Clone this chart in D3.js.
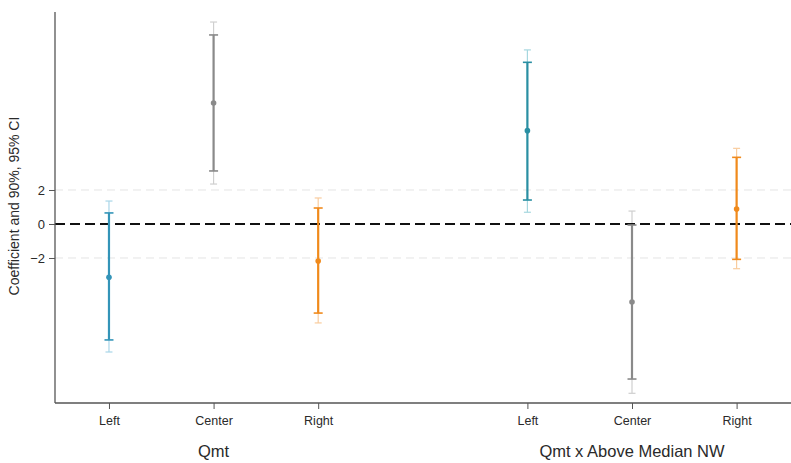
<!DOCTYPE html>
<html>
<head>
<meta charset="utf-8">
<script src="https://cdn.jsdelivr.net/npm/d3@7"></script>
<style>
  body { margin: 0; background: #fff; }
  text { font-family: "Liberation Sans", Arial, sans-serif; fill: #2a2a2a; }
</style>
</head>
<body>
<script>
// data
let labels = ["Left", "Center", "Right", "Left", "Center", "Right"];
let slots = [1, 2, 3, 5, 6, 7];
let groups = ["Qmt", "Qmt x Above Median NW"];
let groupSlot = [2, 6];
let coef = [-3.14, 7.12, -2.18, 5.49, -4.59, 0.88];
let lo90 = [-6.82, 3.12, -5.24, 1.41, -9.12, -2.08];
let hi90 = [0.65, 11.12, 0.94, 9.51, -0.06, 3.92];
let lo95 = [-7.53, 2.35, -5.82, 0.69, -9.96, -2.63];
let hi95 = [1.35, 11.88, 1.53, 10.24, 0.76, 4.45];
let yTicks = [-2, 0, 2];

let w = 791;
let h = 463;
let padL = 55, padT = 12, padB = 403, padR = 791;

const dark = ["#3394b8", "#8a8a8a", "#f08a1c", "#2a8fa3", "#8a8a8a", "#f08a1c"];
const light = ["#a9d6e8", "#cfcfcf", "#f9cc9e", "#a6d7df", "#cfcfcf", "#f9cc9e"];

let svg = d3.select("body").append("svg").attr("width", w).attr("height", h);

let xScale = d3.scaleLinear().domain([0.484, 7.52]).range([padL, padR]);
let yScale = d3.scaleLinear().domain([-10.53, 12.47]).range([padB, padT]);

// light gridlines at +-2
svg.selectAll("line.grid")
  .data([-2, 2])
  .enter()
  .append("line")
  .attr("class", "grid")
  .attr("x1", padL).attr("x2", padR)
  .attr("y1", (d) => yScale(d)).attr("y2", (d) => yScale(d))
  .attr("stroke", "#e4e4e4")
  .attr("stroke-width", 1)
  .attr("stroke-dasharray", "8,5");

let pts = d3.range(coef.length);

// 95% CI (thin, light)
let g95 = svg.append("g");
g95.selectAll("line.ci95")
  .data(pts).enter().append("line")
  .attr("x1", (i) => xScale(slots[i])).attr("x2", (i) => xScale(slots[i]))
  .attr("y1", (i) => yScale(lo95[i])).attr("y2", (i) => yScale(hi95[i]))
  .attr("stroke", (i) => light[i]).attr("stroke-width", 1.2);
[lo95, hi95].forEach((arr) => {
  g95.selectAll(null)
    .data(pts).enter().append("line")
    .attr("x1", (i) => xScale(slots[i]) - 3.5).attr("x2", (i) => xScale(slots[i]) + 3.5)
    .attr("y1", (i) => yScale(arr[i])).attr("y2", (i) => yScale(arr[i]))
    .attr("stroke", (i) => light[i]).attr("stroke-width", 1.2);
});

// zero line
svg.append("line")
  .attr("x1", padL).attr("x2", padR)
  .attr("y1", yScale(0)).attr("y2", yScale(0))
  .attr("stroke", "#111")
  .attr("stroke-width", 1.8)
  .attr("stroke-dasharray", "10,5");

// 90% CI (thick, dark)
let g90 = svg.append("g");
g90.selectAll("line.ci90")
  .data(pts).enter().append("line")
  .attr("x1", (i) => xScale(slots[i])).attr("x2", (i) => xScale(slots[i]))
  .attr("y1", (i) => yScale(lo90[i])).attr("y2", (i) => yScale(hi90[i]))
  .attr("stroke", (i) => dark[i]).attr("stroke-width", 2.2);
[lo90, hi90].forEach((arr) => {
  g90.selectAll(null)
    .data(pts).enter().append("line")
    .attr("x1", (i) => xScale(slots[i]) - 4.5).attr("x2", (i) => xScale(slots[i]) + 4.5)
    .attr("y1", (i) => yScale(arr[i])).attr("y2", (i) => yScale(arr[i]))
    .attr("stroke", (i) => dark[i]).attr("stroke-width", 1.6);
});

// point estimates
svg.selectAll("circle.coef")
  .data(pts).enter().append("circle")
  .attr("cx", (i) => xScale(slots[i]))
  .attr("cy", (i) => yScale(coef[i]))
  .attr("r", 2.8)
  .attr("fill", (i) => dark[i]);

// axes
const yAxis = d3.axisLeft(yScale).tickValues(yTicks).tickSize(6).tickPadding(4).tickFormat(d3.format("d"));
let ya = svg.append("g").attr("transform", "translate(" + padL + ",0)").call(yAxis);
ya.select(".domain").attr("d", "M0," + padT + "V" + padB).attr("stroke", "#555").attr("stroke-width", 1.3);
ya.selectAll(".tick line").attr("stroke", "#555");
ya.selectAll(".tick text").style("font-size", "13px").attr("fill", "#2a2a2a").style("font-family", "Liberation Sans, Arial, sans-serif");

const xAxis = d3.axisBottom(xScale).tickValues(slots).tickSize(6).tickPadding(7).tickFormat((d, i) => labels[i]);
let xa = svg.append("g").attr("transform", "translate(0," + padB + ")").call(xAxis);
xa.select(".domain").attr("d", "M" + padL + ",0H" + padR).attr("stroke", "#555").attr("stroke-width", 1.3);
xa.selectAll(".tick line").attr("stroke", "#555");
xa.selectAll(".tick text").style("font-size", "12.5px").attr("fill", "#2a2a2a").style("font-family", "Liberation Sans, Arial, sans-serif");

svg.selectAll("text.group")
  .data(groups).enter().append("text")
  .attr("class", "group")
  .attr("x", (d, i) => xScale(groupSlot[i]))
  .attr("y", 457)
  .attr("text-anchor", "middle")
  .attr("font-size", "16.5px")
  .text((d) => d);

svg.append("text")
  .attr("text-anchor", "middle")
  .attr("font-size", "14px")
  .attr("transform", "translate(19,206) rotate(-90)")
  .text("Coefficient and 90%, 95% CI");
</script>
</body>
</html>
